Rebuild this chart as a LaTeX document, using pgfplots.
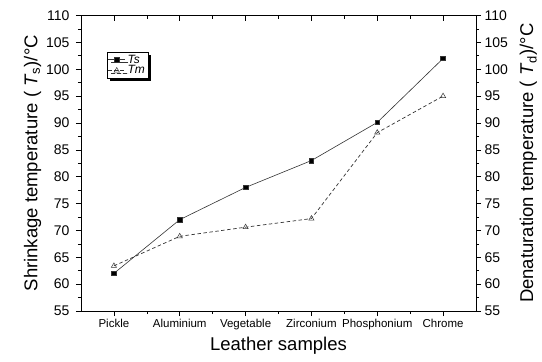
\documentclass[border=0pt]{standalone}
\usepackage{pgfplots}
\pgfplotsset{compat=1.18}
\usepackage{fontspec}
\setmainfont{Liberation Sans}
\usetikzlibrary{shadows}
\begin{document}
\begin{tikzpicture}
\pgfplotsset{every axis/.append style={scale only axis, width=395pt, height=295.5pt,
  xmin=-0.5, xmax=5.5, ymin=55, ymax=110,
  major tick length=5pt, minor tick length=3pt,
  tick style={black, line width=0.6pt},
  axis line style={line width=0.8pt},
  /pgf/number format/assume math mode=true}}
\begin{axis}[
  xtick={0,...,5},
  xticklabels={Pickle,Aluminium,Vegetable,Zirconium,Phosphonium,Chrome},
  minor x tick num=1,
  ytick={55,60,...,110}, minor y tick num=1,
  xtick pos=bottom, ytick pos=left, tick align=outside,
  x tick label style={font=\fontsize{11.5}{12}\selectfont},
  y tick label style={font=\fontsize{14}{14}\selectfont, xshift=-3pt},
  label style={font=\fontsize{18.5}{19}\selectfont},
  xlabel={Leather samples},
  ylabel={Shrinkage temperature (\ \textit{T}\textsubscript{s})/°C},
  ylabel shift=-2pt,
  legend cell align=left,
  legend style={at={(0.065,0.8775)}, anchor=north west, draw=black, fill=white,
    font=\fontsize{12}{12}\selectfont, inner sep=1pt, row sep=-3pt,
    general shadow={fill=black, shadow xshift=3pt, shadow yshift=-3pt}},
]
\addplot[black!80, line width=0.6pt, mark=square*, mark size=2.3pt,
  mark options={solid, fill=black}] coordinates {
  (0,62) (1,72) (2,78) (3,83) (4,90.1) (5,102)};
\addlegendentry{\textit{Ts}}
\addplot[black!80, line width=0.7pt, dash pattern=on 3.5pt off 2.5pt, mark=triangle, mark size=3pt,
  mark options={solid, fill=white, line width=0.5pt}] coordinates {
  (0,63.4) (1,68.9) (2,70.6) (3,72.2) (4,88.2) (5,95)};
\addlegendentry{\textit{Tm}}
\end{axis}
\begin{axis}[
  axis x line=none, axis y line*=right,
  ytick={55,60,...,110}, minor y tick num=1, tick align=outside,
  y tick label style={font=\fontsize{14}{14}\selectfont},
  label style={font=\fontsize{18.5}{19}\selectfont},
  ylabel={Denaturation temperature (\ \textit{T}\textsubscript{d})/°C},
  ylabel shift=5pt,
]
\end{axis}
\begin{axis}[
  axis y line=none, axis x line*=top,
  xtick={0,...,5}, minor x tick num=1, tick align=inside,
  xticklabels={},
]
\end{axis}
\path (-81pt,-51pt) rectangle (461pt,311pt);
\end{tikzpicture}
\end{document}
